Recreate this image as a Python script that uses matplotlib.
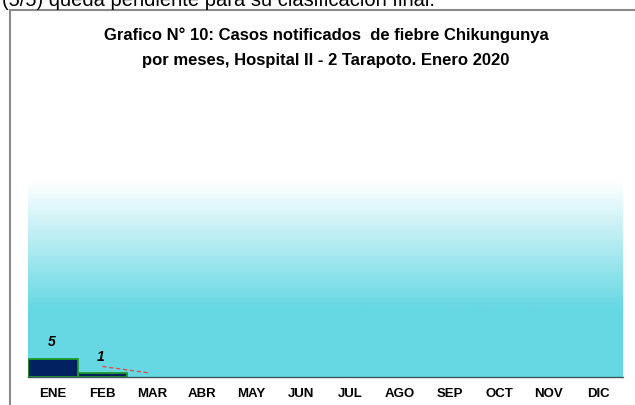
import numpy as np
import matplotlib.pyplot as plt
from matplotlib.patches import Rectangle
from matplotlib.colors import LinearSegmentedColormap

months = ['ENE', 'FEB', 'MAR', 'ABR', 'MAY', 'JUN', 'JUL', 'AGO', 'SEP', 'OCT', 'NOV', 'DIC']
cases = [5, 1, 0, 0, 0, 0, 0, 0, 0, 0, 0, 0]
# short red dashed trend segment (FEB -> MAR)
trend_months = [1, 1.95]
trend_values = [2.9, 1.1]

title_1 = 'Grafico N° 10: Casos notificados  de fiebre Chikungunya'
title_2 = 'por meses, Hospital II - 2 Tarapoto. Enero 2020'
top_text = '(5/5) queda pendiente para su clasificación final.'

narrow = ['Liberation Sans Narrow', 'Liberation Sans', 'DejaVu Sans']

fig = plt.figure(figsize=(6.35, 4.05), dpi=100)
fig.patch.set_facecolor('white')

# outer chart frame (runs off the right and bottom edge)
fig.patches.append(Rectangle((10 / 635, -0.05), 1.0, 1 - 10 / 405 + 0.05,
                             transform=fig.transFigure, fill=False,
                             edgecolor='#8a8a8a', linewidth=1.5))

fig.text(2 / 635, 1 - 6 / 405, top_text, fontsize=14.5, family=['Liberation Sans', 'DejaVu Sans'],
         ha='left', va='baseline', color='black')

ax = fig.add_axes([28 / 635, 28 / 405, 595 / 635, 196 / 405])
x = np.arange(len(months))

# gradient background: white at top, cyan from ~35% height down
cmap = LinearSegmentedColormap.from_list('bg', [(0, '#66d8e3'), (0.35, '#66d8e3'), (1.0, '#ffffff')])
grad = np.linspace(0, 1, 256).reshape(-1, 1)
ax.imshow(grad, aspect='auto', cmap=cmap, origin='lower', extent=[0, 1, 0, 1],
          transform=ax.transAxes, zorder=0)

vals = np.array(cases, dtype=float)
mask = vals > 0
ax.bar(x[mask], vals[mask], width=1.0, color='#002060', edgecolor='#1f9a2a', linewidth=1.3, zorder=2)
for xi, v in zip(x[mask], vals[mask]):
    ax.annotate(f'{v:.0f}', (xi, v), xytext=(-1, 12), textcoords='offset points',
                ha='center', va='center', fontsize=10, fontweight='bold', fontstyle='italic',
                family=['Liberation Sans', 'DejaVu Sans'])

ax.plot(trend_months, trend_values, color='#e05050', linestyle=(0, (3, 2)), linewidth=1.0, zorder=3)

ax.set_xlim(-0.5, len(months) - 0.5)
ax.set_ylim(0, 54)
ax.set_xticks(x)
ax.set_xticklabels(months, fontsize=9.5, fontweight='bold', family=narrow)
ax.tick_params(axis='x', length=0, pad=8)
ax.set_yticks([])
for side in ['left', 'right', 'top']:
    ax.spines[side].set_visible(False)
ax.spines['bottom'].set_color('#3d5a5a')
ax.spines['bottom'].set_linewidth(1.0)
ax.spines['bottom'].set_zorder(4)

fig.text(326 / 635, 1 - 35 / 405, title_1, fontsize=12, fontweight='bold', family=narrow,
         ha='center', va='center')
fig.text(326 / 635, 1 - 60 / 405, title_2, fontsize=12, fontweight='bold', family=narrow,
         ha='center', va='center')

fig.savefig('out.png', dpi=100)
